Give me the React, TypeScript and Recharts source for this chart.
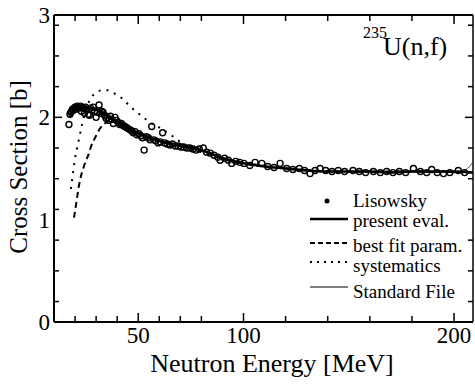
import React from 'react'
import { ComposedChart, Line, Scatter, XAxis, YAxis } from 'recharts'

// Lisowsky data points (MeV, barn)
const LIS_E = [
  17.1, 17.6, 18.0, 18.4, 18.8, 19.2, 19.6, 20.0, 20.5, 21.0, 21.5, 22.0, 22.5, 23.0, 23.5, 24.0, 24.5, 25.0,
  25.6, 26.2, 26.8, 27.4, 28.0, 28.6, 29.2, 30.0, 30.6, 31.4, 32.0, 32.6, 33.3, 34.0, 34.7, 35.4, 36.1, 36.8,
  37.5, 38.2, 39.0, 39.7, 40.5, 41.2, 42.0, 42.8, 43.6, 44.4, 45.2, 46.0, 46.8, 47.6, 48.5, 49.4, 50.3, 51.2,
  52.0, 52.8, 53.8, 54.8, 55.6, 56.4, 57.4, 58.4, 59.5, 60.5, 61.6, 62.6, 63.7, 65.0, 66.3, 67.6, 69.0, 70.3,
  71.6, 73.0, 74.5, 76.0, 77.5, 79.0, 80.9, 82.5, 84.2, 86.0, 87.8, 88.9, 91.0, 92.8, 94.4, 96.3, 98.2, 100.2,
  103.0, 105.5, 108.7, 111.5, 114.5, 117.4, 120.5, 123.5, 126.5, 129.0, 131.6, 134.0, 136.4, 139.0, 142.0,
  145.0, 148.0, 152.0, 155.0, 158.0, 161.7, 165.0, 168.0, 171.0, 174.0, 177.0, 180.7, 184.0, 187.0, 189.4,
  192.0, 195.0, 198.0, 202.0, 205.0,
]
const LIS_S = [
  1.93, 2.03, 2.05, 2.06, 2.08, 2.07, 2.09, 2.1, 2.08, 2.11, 2.1, 2.09, 2.11, 2.06, 2.1, 2.09, 2.04, 2.1,
  2.08, 2.03, 2.02, 2.09, 2.07, 2.1, 2.06, 2.0, 2.05, 2.12, 2.04, 2.06, 2.05, 2.02, 1.99, 2.0, 1.97, 2.01,
  1.98, 1.94, 2.0, 1.97, 1.95, 1.93, 1.94, 1.92, 1.91, 1.9, 1.89, 1.88, 1.87, 1.85, 1.86, 1.83, 1.84, 1.82,
  1.8, 1.68, 1.81, 1.8, 1.78, 1.91, 1.78, 1.77, 1.75, 1.76, 1.85, 1.75, 1.74, 1.73, 1.74, 1.72, 1.72, 1.71,
  1.71, 1.7, 1.7, 1.69, 1.68, 1.69, 1.7, 1.66, 1.65, 1.63, 1.61, 1.58, 1.6, 1.58, 1.55, 1.57, 1.56, 1.55,
  1.53, 1.56, 1.55, 1.52, 1.51, 1.55, 1.5, 1.49, 1.5, 1.48, 1.45, 1.48, 1.5, 1.48, 1.47,
  1.48, 1.47, 1.48, 1.47, 1.46, 1.47, 1.46, 1.47, 1.46, 1.47, 1.46, 1.5, 1.47, 1.46, 1.49,
  1.46, 1.45, 1.46, 1.48, 1.46,
]

// present evaluation
const EVAL_E = [17.5, 18.5, 20, 22, 25, 28, 31, 34, 37, 40, 45, 50, 55, 60, 65, 70, 75, 80, 85, 90, 95, 100, 110, 120, 130, 140, 150, 160, 170, 180, 190, 200, 209]
const EVAL_S = [2.0, 2.05, 2.09, 2.1, 2.1, 2.09, 2.07, 2.03, 1.99, 1.96, 1.9, 1.84, 1.8, 1.77, 1.74, 1.72, 1.7, 1.68, 1.64, 1.6, 1.57, 1.55, 1.52, 1.5, 1.48, 1.47, 1.47, 1.47, 1.46, 1.47, 1.47, 1.47, 1.46]

// best fit parameters
const FIT_E = [19.5, 20.5, 21.5, 22.5, 23.9, 25, 26.3, 27.5, 29.5, 31.8, 33.5, 36, 40, 45, 50, 60, 70, 80, 90, 100, 120, 150, 180, 209]
const FIT_S = [1.02, 1.15, 1.29, 1.4, 1.5, 1.57, 1.63, 1.71, 1.8, 1.89, 1.93, 1.96, 1.96, 1.91, 1.85, 1.77, 1.72, 1.67, 1.6, 1.55, 1.5, 1.47, 1.47, 1.46]

// systematics
const SYS_E = [18, 19, 20, 21.5, 23, 24.7, 27, 30, 34, 38, 42, 46, 50, 55, 60, 66, 72, 80, 90, 100, 120, 150, 180, 209]
const SYS_S = [1.3, 1.45, 1.6, 1.75, 1.9, 2.04, 2.17, 2.24, 2.27, 2.24, 2.19, 2.11, 2.04, 1.96, 1.9, 1.82, 1.73, 1.66, 1.6, 1.56, 1.5, 1.47, 1.47, 1.46]

// standard file
const STD_E = [20, 25, 30, 35, 40, 50, 60, 70, 80, 90, 100, 120, 140, 160, 180, 200, 204, 209]
const STD_S = [2.08, 2.09, 2.07, 2.01, 1.95, 1.84, 1.77, 1.72, 1.68, 1.61, 1.56, 1.5, 1.47, 1.47, 1.47, 1.46, 1.47, 1.56]

const X_TICKS = [20, 30, 40, 50, 60, 70, 80, 90, 100, 110, 120, 130, 140, 150, 160, 170, 180, 190, 200]
const Y_TICKS = [
  0.1, 0.2, 0.3, 0.4, 0.5, 0.6, 0.7, 0.8, 0.9, 1, 1.1, 1.2, 1.3, 1.4, 1.5, 1.6, 1.7, 1.8, 1.9, 2,
  2.1, 2.2, 2.3, 2.4, 2.5, 2.6, 2.7, 2.8, 2.9,
]
const Y_LABELS = [0, 1, 2, 3]

const zip = (xs: number[], ys: number[]) => xs.map((E, i) => ({ E, s: ys[i] }))
const lisowsky = zip(LIS_E, LIS_S)
const evalData = zip(EVAL_E, EVAL_S)
const fitData = zip(FIT_E, FIT_S)
const sysData = zip(SYS_E, SYS_S)
const stdData = zip(STD_E, STD_S)

const FONT = "'Liberation Serif', 'Times New Roman', serif"
const isWhole = (v: number) => Math.abs(v - Math.round(v)) < 1e-6

function BottomTick({ x, y, payload }: any) {
  const v = payload.value
  const major = v % 50 === 0
  return (
    <g>
      <line x1={x} x2={x} y1={y} y2={y - (major ? 9 : 6)} stroke="#000" strokeWidth={1.5} />
      {major && (
        <text x={x} y={y + 21} textAnchor="middle" fontSize={23} fontFamily={FONT} fill="#000">
          {v}
        </text>
      )}
    </g>
  )
}

function TopTick({ x, y, payload }: any) {
  const major = payload.value % 50 === 0
  return <line x1={x} x2={x} y1={y} y2={y + (major ? 9 : 6)} stroke="#000" strokeWidth={1.5} />
}

function LeftTick({ x, y, payload }: any) {
  const major = isWhole(payload.value)
  return <line x1={x} x2={x + (major ? 8 : 5)} y1={y} y2={y} stroke="#000" strokeWidth={1.5} />
}

function RightTick({ x, y, payload }: any) {
  const major = isWhole(payload.value)
  return <line x1={x} x2={x - (major ? 8 : 5)} y1={y} y2={y} stroke="#000" strokeWidth={1.5} />
}

function OpenCircle({ cx, cy }: any) {
  return <circle cx={cx} cy={cy} r={3} fill="none" stroke="#000" strokeWidth={1.4} />
}

const legendRows = [
  { y: 219, label: 'present eval.', dash: undefined, w: 2.5, ty: 222 },
  { y: 243, label: 'best fit param.', dash: '5 3', w: 2, ty: 247 },
  { y: 262, label: 'systematics', dash: '2 5', w: 2, ty: 267 },
  { y: 287, label: 'Standard File', dash: undefined, w: 1, ty: 293 },
]

export default function App() {
  return (
    <div style={{ position: 'absolute', left: 0, top: 0, width: 475, height: 384, background: '#fff' }}>
      <ComposedChart width={475} height={384} margin={{ top: 14, right: 1, bottom: 61, left: 53 }}>
        <XAxis
          xAxisId="b"
          type="number"
          dataKey="E"
          domain={[10, 209]}
          allowDataOverflow
          ticks={X_TICKS}
          height={1}
          tickSize={0}
          tickMargin={0}
          tickLine={false}
          axisLine={{ stroke: '#000', strokeWidth: 2 }}
          tick={<BottomTick />}
        />
        <XAxis
          xAxisId="t"
          orientation="top"
          type="number"
          dataKey="E"
          domain={[10, 209]}
          allowDataOverflow
          ticks={X_TICKS}
          height={1}
          tickSize={0}
          tickMargin={0}
          tickLine={false}
          axisLine={{ stroke: '#000', strokeWidth: 2 }}
          tick={<TopTick />}
        />
        <YAxis
          yAxisId="l"
          type="number"
          dataKey="s"
          domain={[0, 3]}
          allowDataOverflow
          ticks={Y_TICKS}
          width={1}
          tickSize={0}
          tickMargin={0}
          tickLine={false}
          axisLine={{ stroke: '#000', strokeWidth: 2 }}
          tick={<LeftTick />}
        />
        <YAxis
          yAxisId="r"
          orientation="right"
          type="number"
          dataKey="s"
          domain={[0, 3]}
          allowDataOverflow
          ticks={Y_TICKS}
          width={1}
          tickSize={0}
          tickMargin={0}
          tickLine={false}
          axisLine={{ stroke: '#000', strokeWidth: 1.5 }}
          tick={<RightTick />}
        />
        <Line xAxisId="b" yAxisId="l" data={stdData} dataKey="s" type="monotone" stroke="#444" strokeWidth={1} dot={false} isAnimationActive={false} />
        <Line xAxisId="b" yAxisId="l" data={sysData} dataKey="s" type="monotone" stroke="#000" strokeWidth={2} strokeDasharray="2 6" dot={false} isAnimationActive={false} />
        <Line xAxisId="b" yAxisId="l" data={fitData} dataKey="s" type="monotone" stroke="#000" strokeWidth={2} strokeDasharray="6 4" dot={false} isAnimationActive={false} />
        <Line xAxisId="b" yAxisId="l" data={evalData} dataKey="s" type="monotone" stroke="#000" strokeWidth={2.5} dot={false} isAnimationActive={false} />
        <Scatter xAxisId="b" yAxisId="l" data={lisowsky} dataKey="s" shape={<OpenCircle />} isAnimationActive={false} />
      </ComposedChart>
      <svg width={475} height={384} style={{ position: 'absolute', left: 0, top: 0, pointerEvents: 'none' }} fontFamily={FONT}>
        {Y_LABELS.map((v) => (
          <text key={v} x={50} y={321.7 - v * 102.2 + 8} textAnchor="end" fontSize={23} fill="#000">
            {v}
          </text>
        ))}
        <text x={0} y={0} transform="translate(27 167) rotate(-90)" textAnchor="middle" fontSize={25} fill="#000">
          Cross Section [b]
        </text>
        <text x={272} y={372} textAnchor="middle" fontSize={26} fill="#000">
          Neutron Energy [MeV]
        </text>
        <text x={363} y={38} fontSize={16} fill="#000">235</text>
        <text x={383} y={55} fontSize={26} fill="#000">U(n,f)</text>
        <circle cx={327} cy={201} r={2.5} fill="#000" />
        <text x={353} y={207} fontSize={19} fill="#000">Lisowsky</text>
        {legendRows.map((r) => (
          <g key={r.label}>
            <line x1={310} x2={348} y1={r.y} y2={r.y} stroke="#000" strokeWidth={r.w} strokeDasharray={r.dash} />
            <text x={353} y={r.ty + 5} fontSize={19} fill="#000">
              {r.label}
            </text>
          </g>
        ))}
      </svg>
    </div>
  )
}
